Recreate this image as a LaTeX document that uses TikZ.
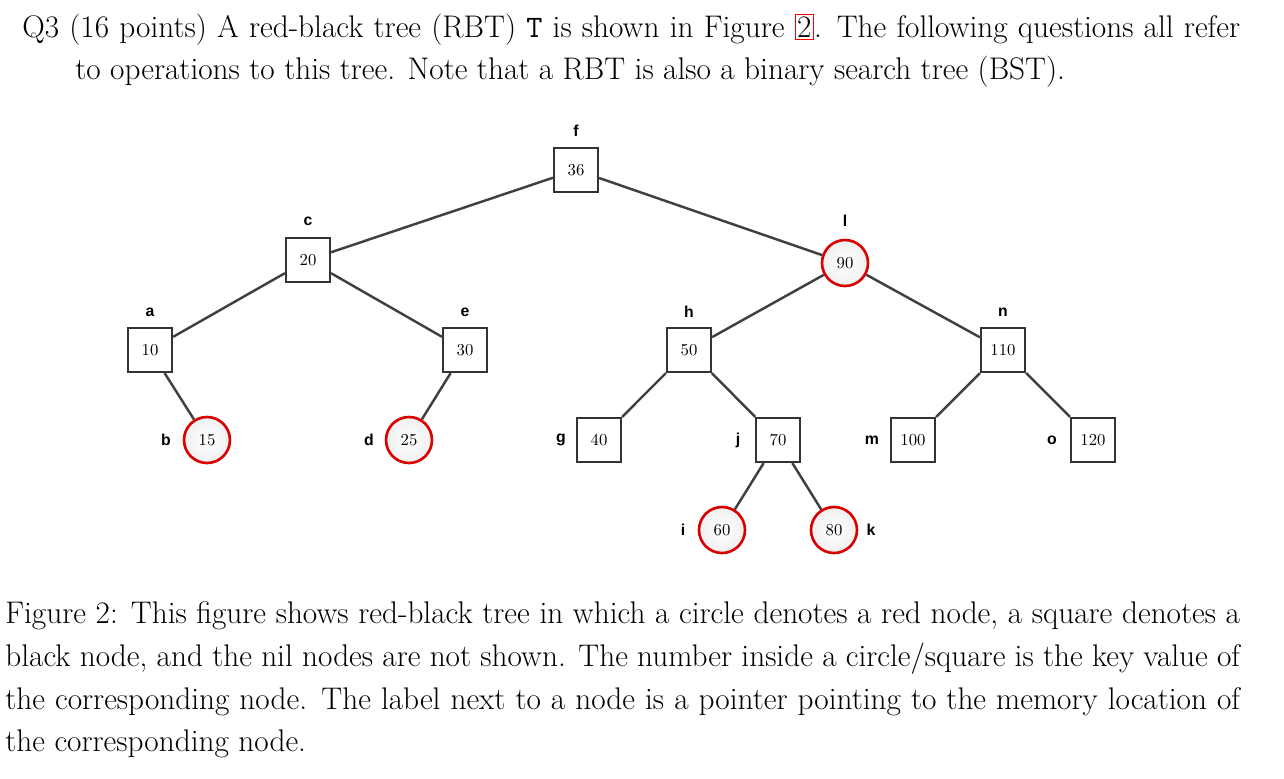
\documentclass[tikz,border=0pt]{standalone}
\usepackage{fontspec}
\newfontfamily\lblfont{Liberation Sans}
\usetikzlibrary{positioning}
\tikzstyle{blk}=[rectangle,draw=black!80,line width=1.2pt,fill=white,minimum size=0.88cm,inner sep=0pt,font=\fontsize{9.5}{11}\selectfont]
\tikzstyle{rd}=[circle,draw=red!85!black,line width=1.5pt,inner color=white,outer color=gray!12,minimum size=0.92cm,inner sep=0pt,font=\fontsize{9.5}{11}\selectfont]
\tikzstyle{ptr}=[font=\lblfont\bfseries\fontsize{9}{11}\selectfont,inner sep=0pt]
\tikzstyle{edge}=[draw=black!75,line width=1.4pt]
\tikzstyle{txt}=[anchor=base west,inner sep=0pt,font=\fontsize{17.8}{22}\selectfont]
\begin{document}
\begin{tikzpicture}[x=0.02cm,y=-0.02cm]
\useasboundingbox (0,0) rectangle (1284,778);

\node (q1) [txt] at (22,37) {\makebox[24.36cm][s]{Q3 (16 points) A red-black tree (RBT) \texttt{T} is shown in Figure {\setlength\fboxsep{1pt}\fcolorbox{red}{white}{2}}. The following questions all refer}};
\node (q2) [txt] at (75,79) {to operations to this tree. Note that a RBT is also a binary search tree (BST).};

% black nodes
\node (f) [blk] at (576,170) {36};
\node (c) [blk] at (308,260) {20};
\node (a) [blk] at (150,350) {10};
\node (e) [blk] at (465,350) {30};
\node (h) [blk] at (689,350) {50};
\node (n) [blk] at (1003,350) {110};
\node (g) [blk] at (599,440) {40};
\node (j) [blk] at (778,440) {70};
\node (m) [blk] at (913,440) {100};
\node (o) [blk] at (1093,440) {120};
% red nodes
\node (l) [rd] at (845,263) {90};
\node (b) [rd] at (207,440) {15};
\node (d) [rd] at (409,440) {25};
\node (i) [rd] at (722,530) {60};
\node (k) [rd] at (834,530) {80};

% pointer labels
\node (pf) [ptr] at (576,131) {f};
\node (pc) [ptr] at (308,221) {c};
\node (pl) [ptr] at (845,221) {l};
\node (pa) [ptr] at (150,312) {a};
\node (pe) [ptr] at (465,312) {e};
\node (ph) [ptr] at (689,312) {h};
\node (pn) [ptr] at (1003,312) {n};
\node (pb) [ptr] at (166,440) {b};
\node (pd) [ptr] at (369,440) {d};
\node (pg) [ptr] at (561,440) {g};
\node (pj) [ptr] at (738,440) {j};
\node (pm) [ptr] at (872,440) {m};
\node (po) [ptr] at (1052,440) {o};
\node (pi) [ptr] at (683,530) {i};
\node (pk) [ptr] at (871,530) {k};

\draw [edge] (f) -- (c);
\draw [edge] (f) -- (l);
\draw [edge] (c) -- (a);
\draw [edge] (c) -- (e);
\draw [edge] (a) -- (b);
\draw [edge] (e) -- (d);
\draw [edge] (l) -- (h);
\draw [edge] (l) -- (n);
\draw [edge] (h) -- (g);
\draw [edge] (h) -- (j);
\draw [edge] (j) -- (i);
\draw [edge] (j) -- (k);
\draw [edge] (n) -- (m);
\draw [edge] (n) -- (o);

\node (cap1) [txt] at (5,623) {\makebox[24.7cm][s]{Figure 2: This figure shows red-black tree in which a circle denotes a red node, a square denotes a}};
\node (cap2) [txt] at (5,666) {\makebox[24.7cm][s]{black node, and the nil nodes are not shown. The number inside a circle/square is the key value of}};
\node (cap3) [txt] at (5,709) {\makebox[24.7cm][s]{the corresponding node. The label next to a node is a pointer pointing to the memory location of}};
\node (cap4) [txt] at (5,751) {the corresponding node.};
\end{tikzpicture}
\end{document}
